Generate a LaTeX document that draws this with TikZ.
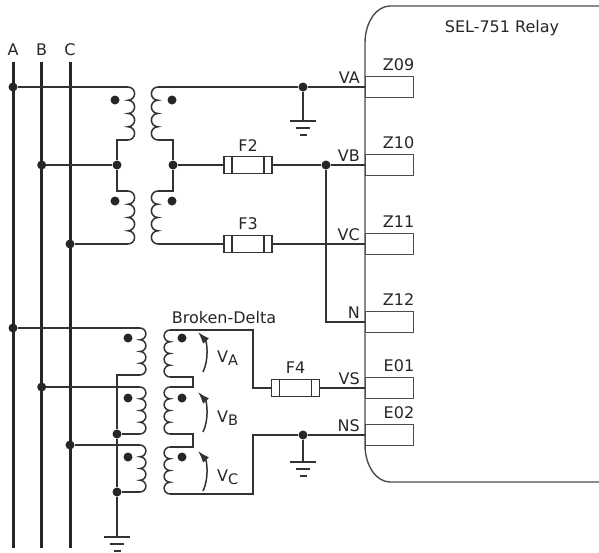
\documentclass[tikz,border=0pt]{standalone}
\usepackage{fontspec}
\setmainfont{DejaVu Sans}
\usetikzlibrary{arrows.meta}

\begin{document}
\begin{tikzpicture}[x=1pt,y=-1pt,>={Latex[length=12pt,width=8pt]},
    wire/.style={line width=1.5pt,draw=black!80},
    bus/.style={line width=3pt,draw=black!85},
    box/.style={line width=1.4pt,draw=black!70},
    dot/.style={circle,fill=black!85,inner sep=0pt,minimum size=9pt},
    lbl/.style={font=\fontsize{16}{19}\selectfont,text=black!85,inner sep=0pt},
    term/.style={box,minimum width=48pt,minimum height=21pt,inner sep=0pt,anchor=west},
    fuse/.style={wire,fill=white,minimum width=48pt,minimum height=17pt,inner sep=0pt,
      path picture={\draw[wire]
        ([xshift=8pt]path picture bounding box.south west) -- ([xshift=8pt]path picture bounding box.north west)
        ([xshift=-8pt]path picture bounding box.south east) -- ([xshift=-8pt]path picture bounding box.north east);}},
    pics/coilr/.style={code={\draw[wire] (0,0) \foreach \k in {1,...,4}{arc[start angle=90,end angle=-90,radius=#1]};}},
    pics/coill/.style={code={\draw[wire] (0,0) \foreach \k in {1,...,4}{arc[start angle=90,end angle=270,radius=#1]};}},
    pics/ground/.style={code={\draw[wire] (-13,0) -- (13,0) (-7,7) -- (7,7) (-3.5,14) -- (3.5,14);}}]
\useasboundingbox (0,0) rectangle (599,552);

% bus bars
\foreach \x/\n in {13/A,41.7/B,70/C}{
  \node[lbl,anchor=base] (\n) at (\x,55) {\n};
  \coordinate (\n-top) at (\x,62);
  \coordinate (\n-bot) at (\x,548);
  \draw[bus] (\n-top) -- (\n-bot);
}

% relay
\draw[box] (599,6) -- (390,6) arc[start angle=90,end angle=180,x radius=25pt,y radius=37pt]
  -- (365,445) arc[start angle=180,end angle=270,x radius=25pt,y radius=37pt] -- (599,482);
\node[lbl,anchor=base] (relay) at (502,32) {SEL-751 Relay};
\foreach \y/\t/\w in {87/Z09/VA,165/Z10/VB,244/Z11/VC,322/Z12/N,388/E01/VS,435/E02/NS}{
  \node[term] (\t) at (365,\y) {};
  \node[lbl,anchor=base east] (\t-l) at ([yshift=5.5pt]\t.north east) {\t};
  \node[lbl,anchor=base east] (\w) at (360,\y-4) {\w};
}

% open-delta VTs
\node[dot] (a1) at (13,87) {};
\node[dot] (b1) at (41.7,165) {};
\node[dot] (c1) at (70,244) {};
\node[dot] (pn) at (117,165) {};
\node[dot] (sn) at (173,165) {};
\node[dot] (ga) at (303,87) {};
\node[dot] (nb) at (326,165) {};
\foreach \y in {100,201}{
  \node[dot] (pd\y) at (115,\y) {};
  \node[dot] (sd\y) at (172,\y) {};
}
\coordinate (p1t) at (128,87);  \coordinate (p1b) at (128,140);
\coordinate (p2t) at (128,191); \coordinate (p2b) at (128,244);
\coordinate (s1t) at (158,87);  \coordinate (s1b) at (158,140);
\coordinate (s2t) at (158,191); \coordinate (s2b) at (158,244);
\pic at (p1t) {coilr=6.625pt};
\pic at (p2t) {coilr=6.625pt};
\pic at (s1t) {coill=6.625pt};
\pic at (s2t) {coill=6.625pt};
\node[fuse] (F2) at (248,165) {};
\node[fuse] (F3) at (248,244) {};
\node[lbl,anchor=base] (F2-l) at ([yshift=4pt]F2.north) {F2};
\node[lbl,anchor=base] (F3-l) at ([yshift=5pt]F3.north) {F3};
\coordinate (gA) at (303,121);
\pic at (gA) {ground};

\draw[wire] (a1) -- (p1t);
\draw[wire] (p1b) -| (pn) |- (p2t);
\draw[wire] (b1) -- (pn);
\draw[wire] (p2b) -- (c1);
\draw[wire] (s1t) -- (ga) -- (Z09.west);
\draw[wire] (ga) -- (gA);
\draw[wire] (s1b) -| (sn) |- (s2t);
\draw[wire] (sn) -- (F2.west);
\draw[wire] (F2.east) -- (nb) -- (Z10.west);
\draw[wire] (nb) |- (Z12.west);
\draw[wire] (s2b) -- (F3.west);
\draw[wire] (F3.east) -- (Z11.west);

% broken-delta VTs
\node[lbl,anchor=base] (bd) at (224,323) {Broken-Delta};
\node[dot] (a2) at (13,328) {};
\node[dot] (b2) at (41.7,387) {};
\node[dot] (c2) at (70,445) {};
\node[dot] (qn2) at (117,434) {};
\node[dot] (qn3) at (117,492) {};
\node[dot] (ns) at (303,435) {};
\foreach \y/\v in {338/A,398/B,457/C}{
  \node[dot] (qd\v) at (128,\y) {};
  \node[dot] (rd\v) at (182,\y) {};
  \coordinate (ab\v) at (203,\y+34);
  \coordinate (at\v) at (198,\y-6);
  \draw[wire,->] (ab\v) .. controls +(6,-12) and +(9,10) .. (at\v);
  \node[lbl,anchor=base west] (V\v) at (217,\y+24) {V\raisebox{-3pt}{\fontsize{14.5}{16}\selectfont\v}};
}
\coordinate (q1t) at (140,328); \coordinate (q1b) at (140,375);
\coordinate (q2t) at (140,387); \coordinate (q2b) at (140,434);
\coordinate (q3t) at (140,445); \coordinate (q3b) at (140,492);
\coordinate (r1t) at (170,330); \coordinate (r1b) at (170,377);
\coordinate (r2t) at (170,387); \coordinate (r2b) at (170,434);
\coordinate (r3t) at (170,447); \coordinate (r3b) at (170,494);
\foreach \i in {1,2,3}{
  \pic at (q\i t) {coilr=5.875pt};
  \pic at (r\i t) {coill=5.875pt};
}
\coordinate (j1) at (193,377);
\coordinate (j2) at (193,434);
\coordinate (k1) at (253,388);
\coordinate (k2) at (253,435);
\node[fuse] (F4) at (295.5,388) {};
\node[lbl,anchor=base] (F4-l) at ([yshift=5pt]F4.north) {F4};
\coordinate (gB) at (117,537);
\coordinate (gC) at (303,462);
\pic at (gB) {ground};
\pic at (gC) {ground};

\draw[wire] (a2) -- (q1t);
\draw[wire] (b2) -- (q2t);
\draw[wire] (c2) -- (q3t);
\draw[wire] (q1b) -| (qn2) -- (qn3) -- (gB);
\draw[wire] (q2b) -- (qn2);
\draw[wire] (q3b) -- (qn3);
\draw[wire] (r1t) -| (k1) -- (F4.west);
\draw[wire] (F4.east) -- (E01.west);
\draw[wire] (r1b) -- (j1) |- (r2t);
\draw[wire] (r2b) -- (j2) |- (r3t);
\draw[wire] (r3b) -| (k2) -- (ns) -- (E02.west);
\draw[wire] (ns) -- (gC);
\end{tikzpicture}
\end{document}
